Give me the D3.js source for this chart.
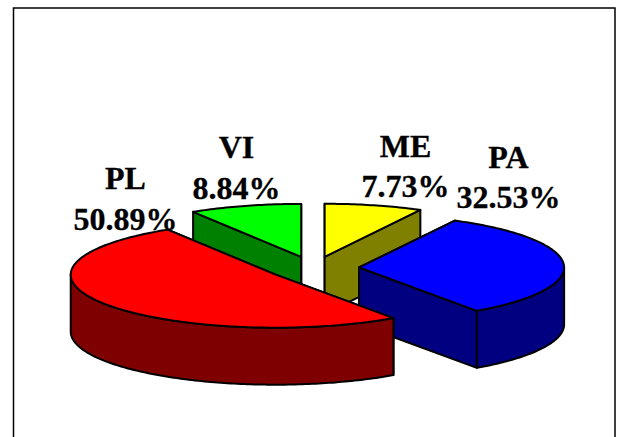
<!DOCTYPE html>
<html lang="en">
<head>
  <meta charset="UTF-8">
  <title>3D Exploded Pie</title>
  <script src="https://d3js.org/d3.v7.min.js"></script>
  <style>
    body { margin: 0; background: white; }
    svg { display: block; }
    text {
      font-family: "Liberation Serif", serif;
      font-weight: bold;
      font-size: 32px;
      fill: #000;
      stroke: #000;
      stroke-width: 0.3px;
      text-anchor: middle;
    }
  </style>
</head>
<body>
  <svg width="617" height="437"></svg>
  <script>
    const categories = ["ME", "PA", "PL", "VI"];
    const shares = [7.73, 32.53, 50.89, 8.84];
    const topColors = ["#ffff00", "#0000ff", "#ff0000", "#00ff00"];
    const sideColors = ["#808000", "#000080", "#7f0000", "#008000"];

    // label anchors: [x, name baseline, percent baseline]
    const labelSpots = [[405.5, 157, 197], [508.5, 168, 208], [125.5, 189, 230], [236.5, 158, 199]];

    const cx = 313.7, cy = 268.2;
    const rx = 205, ry = 53;
    const depth = 57;
    const explode = 45.5;

    const svg = d3.select("svg");

    // frame is open at the bottom
    svg.append("path")
      .attr("d", "M13.5,437V8H615V437")
      .attr("fill", "none")
      .attr("stroke", "#000")
      .attr("stroke-width", 1.5);

    const pie = d3.pie().sort(null)(shares);

    const slices = pie.map((p, i) => {
      const t0 = p.startAngle - Math.PI / 2;
      const t1 = p.endAngle - Math.PI / 2;
      const mid = (t0 + t1) / 2;
      return {
        i, t0, t1, mid,
        x: cx + explode * Math.cos(mid),
        y: cy + explode * (ry / rx) * Math.sin(mid)
      };
    });

    const line = d3.line();
    const rim = (s, t, drop = 0) => [s.x + rx * Math.cos(t), s.y + ry * Math.sin(t) + drop];

    // points along the rim between two angles
    function arcPoints(s, a, b, drop = 0) {
      const n = Math.max(2, Math.ceil(Math.abs(b - a) * 60));
      return d3.range(n + 1).map(k => rim(s, a + (b - a) * k / n, drop));
    }

    function cutFace(s, t) {
      return line([[s.x, s.y], rim(s, t), rim(s, t, depth), [s.x, s.y + depth]]) + "Z";
    }

    const order = slices.slice().sort((a, b) => Math.sin(a.mid) - Math.sin(b.mid));

    order.forEach(s => {
      const g = svg.append("g")
        .attr("stroke", "#000")
        .attr("stroke-width", 2)
        .attr("stroke-linejoin", "round");

      g.selectAll("path.cut")
        .data([s.t0, s.t1])
        .join("path")
        .attr("class", "cut")
        .attr("d", t => cutFace(s, t))
        .attr("fill", sideColors[s.i]);

      // outer wall only where the rim faces the viewer
      const a = Math.max(s.t0, 0), b = Math.min(s.t1, Math.PI);
      if (b > a) {
        const pts = arcPoints(s, a, b).concat(arcPoints(s, b, a, depth));
        g.append("path")
          .attr("d", line(pts) + "Z")
          .attr("fill", sideColors[s.i]);
      }

      g.append("path")
        .attr("d", line([[s.x, s.y]].concat(arcPoints(s, s.t0, s.t1))) + "Z")
        .attr("fill", topColors[s.i]);
    });

    const labels = svg.append("g")
      .selectAll("g")
      .data(categories)
      .join("g");

    labels.append("text")
      .attr("x", (d, i) => labelSpots[i][0])
      .attr("y", (d, i) => labelSpots[i][1])
      .text(d => d);

    labels.append("text")
      .attr("x", (d, i) => labelSpots[i][0])
      .attr("y", (d, i) => labelSpots[i][2])
      .text((d, i) => shares[i].toFixed(2) + "%");
  </script>
</body>
</html>
